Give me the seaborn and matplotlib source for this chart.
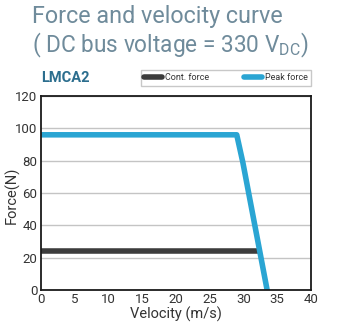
import matplotlib
matplotlib.use("Agg")
import matplotlib.pyplot as plt
import seaborn as sns
import pandas as pd
from matplotlib.lines import Line2D

# Data
cont_velocity = [0, 32.2]
cont_force = [24, 24]
peak_velocity = [0, 29.0, 29.9, 33.5]
peak_force = [96, 96, 79, 0]
series_names = ["Cont. force", "Peak force"]
x_ticks = [0, 5, 10, 15, 20, 25, 30, 35, 40]
y_ticks = [0, 20, 40, 60, 80, 100, 120]

sns.set_theme(style="white")
plt.rcParams['font.family'] = ['Roboto', 'DejaVu Sans']

df = pd.concat([
    pd.DataFrame({"Velocity": cont_velocity, "Force": cont_force, "Series": series_names[0]}),
    pd.DataFrame({"Velocity": peak_velocity, "Force": peak_force, "Series": series_names[1]}),
])

fig = plt.figure(figsize=(3.37, 3.22), dpi=100)
ax = fig.add_axes([41/337, 1 - 290/322, (311 - 41)/337, (290 - 96)/322])

palette = {series_names[0]: "#3c3c3c", series_names[1]: "#2aa5d3"}
sns.lineplot(data=df, x="Velocity", y="Force", hue="Series", palette=palette,
             linewidth=4, sort=False, estimator=None, ax=ax, legend=False)

ax.set_xlim(0, 40)
ax.set_ylim(0, 120)
ax.set_xticks(x_ticks)
ax.set_yticks(y_ticks)
ax.tick_params(axis='x', labelsize=9.5, colors="#333333", length=0, pad=2.5)
ax.tick_params(axis='y', labelsize=9.5, colors="#333333", length=0, pad=2.5)
ax.grid(axis='y', color="#c4c4c4", linewidth=1)
ax.set_axisbelow(True)
for s in ax.spines.values():
    s.set_color("#1a1a1a")
    s.set_linewidth(1.3)

ax.set_xlabel("Velocity (m/s)", fontsize=10.5, color="#333333", labelpad=0)
ax.set_ylabel("Force(N)", fontsize=10.5, color="#333333")
ax.yaxis.set_label_coords(-0.078, 0.49)

# Title
fig.text(32/337, 1 - 17/322, "Force and velocity curve", fontsize=16.8,
         color="#6f8b9b", va="center", ha="left")
fig.text(32/337, 1 - 45/322, "( DC bus voltage = 330 V$_{\\mathregular{DC}}$)", fontsize=16.3,
         color="#6f8b9b", va="center", ha="left")
fig.text(41/337, 1 - 78/322, "LMCA2", fontsize=10.5, fontweight="bold",
         color="#2c6e8e", va="center", ha="left")

# Legend
handles = [Line2D([], [], color=palette[n], linewidth=4) for n in series_names]
leg = fig.legend(handles, series_names, loc="center", ncol=2,
                 bbox_to_anchor=(226/337, 1 - 78/322), fontsize=6.5,
                 frameon=True, fancybox=False, edgecolor="#bbbbbb",
                 handlelength=2.0, columnspacing=3.8, handletextpad=0.4,
                 borderpad=0.35, labelcolor="#333333")
leg.get_frame().set_linewidth(1)

fig.savefig("out.png", dpi=100)
